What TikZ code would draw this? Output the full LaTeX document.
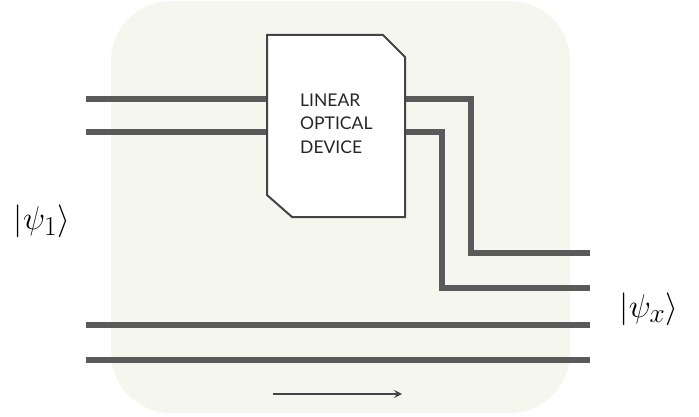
\documentclass[tikz,border=0pt]{standalone}
\usepackage{fontspec}
\newfontfamily\devfont{Lato}
\usetikzlibrary{arrows.meta}
\definecolor{bgc}{HTML}{F5F7EE}
\definecolor{wirec}{HTML}{5A5A5A}
\definecolor{boxc}{HTML}{444444}
\newcommand{\ketlabel}[1]{\scalebox{1.32}{\Huge$|\psi_{#1}\rangle$}}
\tikzset{
  wire/.style={draw=wirec, line width=5.5pt},
  devbox/.style={draw=boxc, line width=2pt, fill=white, line join=miter},
  ket/.style={inner sep=0pt},
  devlabel/.style={inner sep=0pt, align=left, anchor=north west, text=black!85, font=\devfont\fontsize{17.5}{23.5}\selectfont},
}
\begin{document}
\begin{tikzpicture}[x=1pt,y=-1pt]
\useasboundingbox (0,0) rectangle (699,417);
% background
\fill[bgc, rounded corners=60pt] (111,1) rectangle (570,413);
% coordinates
\coordinate (l1) at (86,99);
\coordinate (l2) at (86,132);
\coordinate (l3) at (86,325);
\coordinate (l4) at (86,360);
\coordinate (r1) at (590,253);
\coordinate (r2) at (590,288);
\coordinate (r3) at (590,325);
\coordinate (r4) at (590,360);
\coordinate (d1) at (267,99);
\coordinate (d2) at (267,132);
\coordinate (o1) at (405,99);
\coordinate (o2) at (405,132);
% wires
\draw[wire] (l1) -- (d1);
\draw[wire] (l2) -- (d2);
\draw[wire] (o1) -- (471,99) -- (471,253) -- (r1);
\draw[wire] (o2) -- (442,132) -- (442,288) -- (r2);
\draw[wire] (l3) -- (r3);
\draw[wire] (l4) -- (r4);
% device
\draw[devbox] (267,35) -- (383,35) -- (405,57) -- (405,217) -- (292,217) -- (267,195) -- cycle;
\node[devlabel] (dev) at (300,93.5) {LINEAR\\OPTICAL\\DEVICE};
% kets
\node[ket] (psi1) at (42,221) {\ketlabel{1}};
\node[ket] (psix) at (649,309) {\ketlabel{x}};
% arrow
\coordinate (a0) at (273,394);
\coordinate (a1) at (402,394);
\draw[draw=boxc, line width=1.4pt, -{Stealth[length=8pt,width=8pt,inset=3pt]}] (a0) -- (a1);
\end{tikzpicture}
\end{document}
